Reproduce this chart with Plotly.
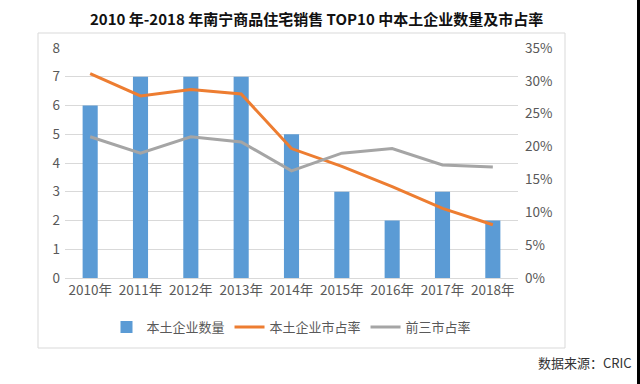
import plotly.graph_objects as go

years = ["2010年", "2011年", "2012年", "2013年", "2014年", "2015年", "2016年", "2017年", "2018年"]
local_count = [6, 7, 7, 7, 5, 3, 2, 3, 2]
local_share = [31.1, 27.7, 28.7, 28.0, 19.7, 17.0, 13.9, 10.6, 8.1]
top3_share = [21.5, 19.0, 21.5, 20.7, 16.3, 19.0, 19.7, 17.2, 16.9]

W, H = 640, 384
L, R, T, B = 65, 518, 48, 278

font_family = "Noto Sans CJK SC, Noto Sans, sans-serif"
tick_color = "#595959"

fig = go.Figure()
fig.add_trace(go.Bar(x=years, y=local_count, name="本土企业数量",
                     marker=dict(color="#5B9BD5", line=dict(width=0)), yaxis="y"))
fig.add_trace(go.Scatter(x=years, y=local_share, name="本土企业市占率", mode="lines",
                         line=dict(color="#ED7D31", width=3), yaxis="y2"))
fig.add_trace(go.Scatter(x=years, y=top3_share, name="前三市占率", mode="lines",
                         line=dict(color="#A5A5A5", width=3), yaxis="y2"))


def fx(x):
    return (x - L) / (R - L)


def fy(y):
    return (B - y) / (B - T)


fig.update_layout(
    width=W, height=H,
    margin=dict(l=L, r=W - R, t=T, b=H - B, pad=0, autoexpand=False),
    paper_bgcolor="white", plot_bgcolor="white",
    font=dict(family=font_family, size=12, color=tick_color),
    bargap=0.7,
    showlegend=True,
    legend=dict(orientation="h", x=0.5, xanchor="center", y=fy(327), yanchor="middle",
                font=dict(size=13, color=tick_color),
                itemwidth=30, tracegroupgap=0, bgcolor="rgba(0,0,0,0)"),
    xaxis=dict(showgrid=False, showline=True, linecolor="#D9D9D9", linewidth=1,
               ticks="", automargin=False, tickfont=dict(size=13.5, color=tick_color)),
    yaxis=dict(range=[0, 8], dtick=1, showgrid=True, gridcolor="#D9D9D9", gridwidth=1,
               zeroline=False, showline=False, ticks="", automargin=False,
               tickfont=dict(size=13.5, color=tick_color), ticklabelstandoff=4),
    yaxis2=dict(range=[0, 35], dtick=5, overlaying="y", side="right", showgrid=False,
                zeroline=False, showline=False, ticksuffix="%", ticks="", automargin=False,
                tickfont=dict(size=13.5, color=tick_color), ticklabelstandoff=6),
    shapes=[
        dict(type="rect", xref="paper", yref="paper",
             x0=fx(38), x1=fx(565), y0=fy(348), y1=fy(33),
             line=dict(color="#D9D9D9", width=1), fillcolor="rgba(0,0,0,0)", layer="below"),
        dict(type="line", xref="paper", yref="paper",
             x0=fx(638.5), x1=fx(638.5), y0=fy(384), y1=fy(0),
             line=dict(color="#000000", width=3), layer="above"),
    ],
    annotations=[
        dict(text="<b>2010 年-2018 年南宁商品住宅销售 TOP10 中本土企业数量及市占率</b>",
             xref="paper", yref="paper", x=fx(316), y=fy(18),
             xanchor="center", yanchor="middle", showarrow=False,
             font=dict(size=15, color="#111111", family=font_family)),
        dict(text="数据来源：CRIC", xref="paper", yref="paper",
             x=fx(634), y=fy(362),
             xanchor="right", yanchor="middle", showarrow=False,
             font=dict(size=13, color="#333333", family=font_family)),
    ],
)

fig.write_html("out.html", config={"displayModeBar": False},
               post_script="document.body.style.margin='0';document.body.style.overflow='hidden';")
